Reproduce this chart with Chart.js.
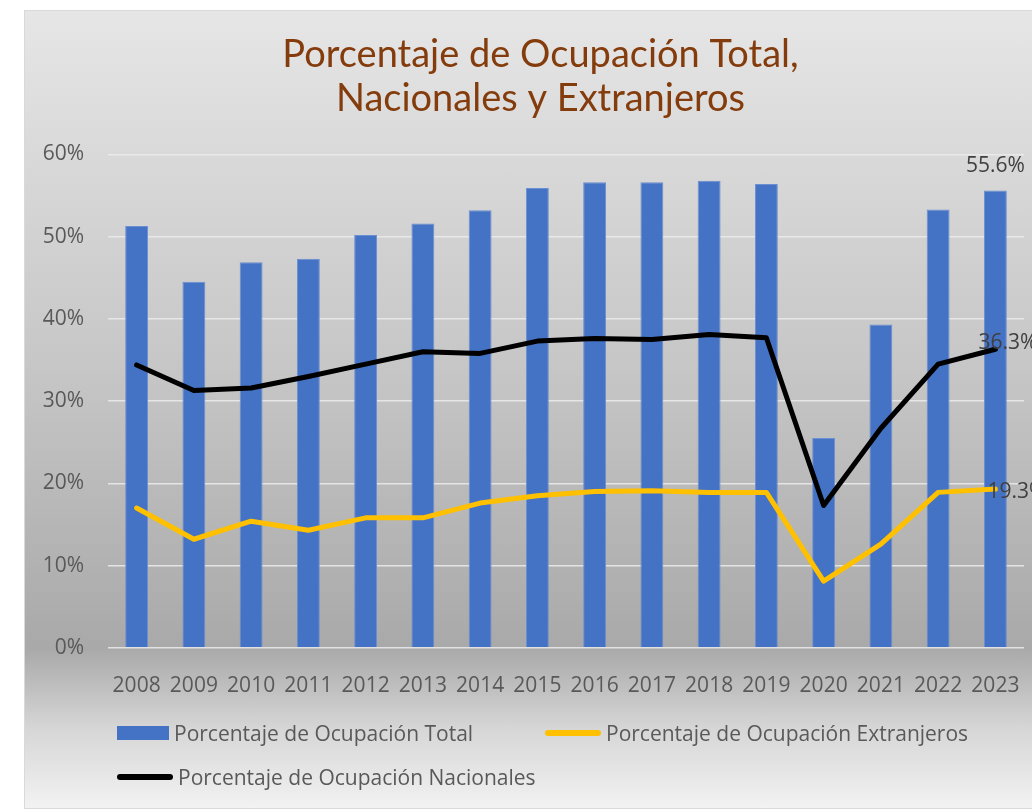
<!DOCTYPE html>
<html>
<head>
<meta charset="utf-8">
<title>Porcentaje de Ocupación</title>
<script src="https://cdn.jsdelivr.net/npm/chart.js@4.4.1/dist/chart.umd.min.js"></script>
<style>
  html, body { margin: 0; padding: 0; background: #fff; overflow: hidden; width: 1032px; height: 809px; }
  #box {
    position: absolute; left: 24px; top: 10px; width: 1032px; height: 797px;
    border-left: 1px solid #d9d9d9; border-top: 1px solid #d9d9d9; border-bottom: 1px solid #d9d9d9;
    background: linear-gradient(to bottom, #e6e6e6 0%, #c6c6c6 45%, #a9a9a9 80%, #d6d6d6 90%, #f2f2f2 100%);
  }
  #box canvas { position: absolute; left: 0; top: 0; }
  .legend {
    position: absolute; left: 92px; top: 700px;
    display: grid; grid-template-columns: 428px auto; grid-auto-rows: 44px;
    font: 21px "Open Sans", sans-serif; color: #595959;
  }
  .legend div { display: flex; align-items: center; gap: 5px; white-space: nowrap; }
  .legend .bar { width: 52px; height: 14px; background: #4472C4; }
  .legend .line { width: 56px; height: 6px; border-radius: 3px; }
</style>
</head>
<body>
<div id="box">
  <canvas id="chart"></canvas>
  <div class="legend">
    <div><span class="bar"></span>Porcentaje de Ocupación Total</div>
    <div><span class="line" style="background:#FFC000"></span>Porcentaje de Ocupación Extranjeros</div>
    <div><span class="line" style="background:#000"></span>Porcentaje de Ocupación Nacionales</div>
  </div>
</div>
<script>
const years = ['2008', '2009', '2010', '2011', '2012', '2013', '2014', '2015',
               '2016', '2017', '2018', '2019', '2020', '2021', '2022', '2023'];
const ocupacionTotal = [51.3, 44.5, 46.9, 47.3, 50.2, 51.6, 53.2, 55.9,
                        56.6, 56.6, 56.8, 56.4, 25.5, 39.3, 53.3, 55.6];
const ocupacionNacionales = [34.4, 31.3, 31.6, 33.0, 34.5, 36.0, 35.8, 37.3,
                             37.6, 37.5, 38.1, 37.7, 17.3, 26.7, 34.5, 36.3];
const ocupacionExtranjeros = [17.0, 13.2, 15.4, 14.3, 15.8, 15.8, 17.6, 18.5,
                              19.0, 19.1, 18.9, 18.9, 8.1, 12.6, 18.9, 19.3];
const yTicks = [0, 10, 20, 30, 40, 50, 60];

const font = '"Open Sans", sans-serif';

// value label on the last point of each series
const endLabels = {
  id: 'endLabels',
  afterDatasetsDraw(chart) {
    const { ctx } = chart;
    ctx.save();
    ctx.font = '21px ' + font;
    ctx.fillStyle = '#404040';
    ctx.textBaseline = 'middle';
    chart.data.datasets.forEach((ds, i) => {
      const meta = chart.getDatasetMeta(i);
      const el = meta.data[meta.data.length - 1];
      const text = ds.data[ds.data.length - 1].toFixed(1) + '%';
      if (ds.type === 'bar') {
        ctx.textAlign = 'center';
        ctx.fillText(text, el.x, el.y - 25);
      } else {
        ctx.textAlign = 'left';
        ctx.fillText(text, el.x + ds.labelDx, el.y + ds.labelDy);
      }
    });
    ctx.restore();
  }
};

const canvas = document.getElementById('chart');
canvas.width = 1031;
canvas.height = 796;

new Chart(canvas, {
  data: {
    labels: years,
    datasets: [
      {
        type: 'line',
        label: 'Porcentaje de Ocupación Nacionales',
        data: ocupacionNacionales,
        borderColor: '#000000',
        borderWidth: 5,
        pointRadius: 0,
        tension: 0,
        borderJoinStyle: 'round',
        borderCapStyle: 'round',
        order: 1,
        labelDx: -17, labelDy: -6
      },
      {
        type: 'line',
        label: 'Porcentaje de Ocupación Extranjeros',
        data: ocupacionExtranjeros,
        borderColor: '#FFC000',
        borderWidth: 5,
        pointRadius: 0,
        tension: 0,
        borderJoinStyle: 'round',
        borderCapStyle: 'round',
        order: 2,
        labelDx: -8, labelDy: 3
      },
      {
        type: 'bar',
        label: 'Porcentaje de Ocupación Total',
        data: ocupacionTotal,
        backgroundColor: '#4472C4',
        borderColor: '#6b8fd2',
        borderWidth: 1,
        categoryPercentage: 1,
        barPercentage: 0.4,
        order: 3
      }
    ]
  },
  options: {
    responsive: false,
    animation: false,
    layout: { padding: { top: 0, right: 0, bottom: 90, left: 0 } },
    plugins: {
      legend: { display: false },
      tooltip: { enabled: false },
      title: {
        display: true,
        text: ['Porcentaje de Ocupación Total,', 'Nacionales y Extranjeros'],
        color: '#843C0C',
        font: { family: 'Lato', size: 38, weight: 'normal', lineHeight: 1.15 },
        padding: { top: 22, bottom: 34 }
      }
    },
    scales: {
      x: {
        grid: { display: false },
        border: { display: false },
        ticks: { color: '#595959', font: { family: font, size: 21 }, padding: 18, maxRotation: 0, autoSkip: false }
      },
      y: {
        min: 0,
        max: 60,
        afterFit(scale) { scale.width = 83; },
        afterBuildTicks(scale) { scale.ticks = yTicks.map(v => ({ value: v })); },
        grid: { color: 'rgba(236,236,236,0.85)', lineWidth: 1.5, drawTicks: false },
        border: { display: false },
        ticks: { color: '#595959', font: { family: font, size: 21 }, padding: 24, callback: v => v + '%' }
      },
      // empty right-hand axis: only reserves space so the title stays centred on the box
      yRight: {
        position: 'right',
        min: 0,
        max: 60,
        afterFit(scale) { scale.width = 32; },
        grid: { display: false },
        border: { display: false },
        ticks: { display: false }
      }
    }
  },
  plugins: [endLabels]
});
</script>
</body>
</html>
